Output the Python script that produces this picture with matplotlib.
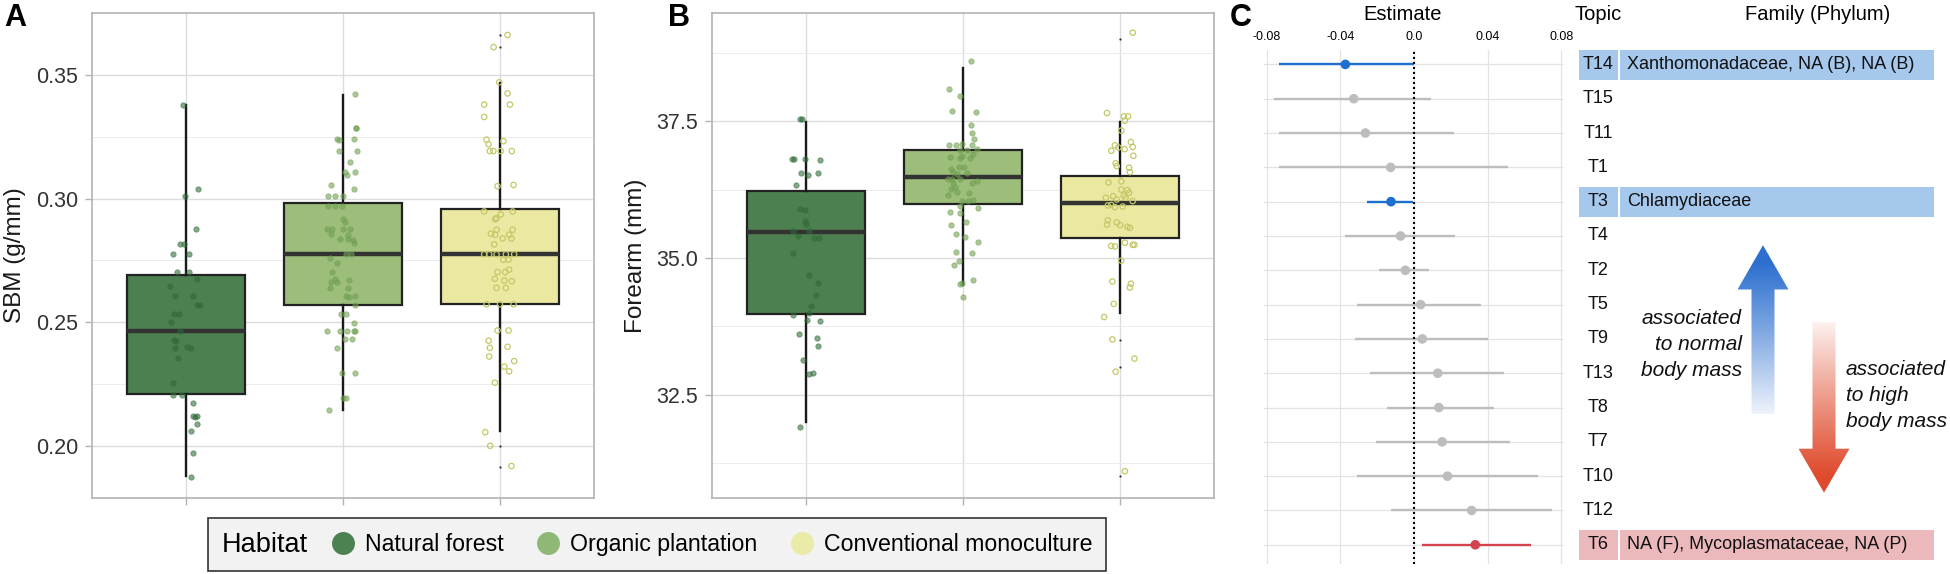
import numpy as np
import matplotlib
matplotlib.use('Agg')
import matplotlib.pyplot as plt
from matplotlib.lines import Line2D
from matplotlib.patches import Polygon
from matplotlib.offsetbox import HPacker

plt.rcParams['font.family'] = ['Liberation Sans', 'DejaVu Sans']

# ---- data ----

habitats = ['Natural forest', 'Organic plantation', 'Conventional monoculture']
box_fill = ['#4d8050', '#9cbe7a', '#ebe9a1']
pt_color = ['#2f6a36', '#6f9f52', '#c4c868']
legend_fill = ['#4c8152', '#8fb877', '#e9eba7']

# box statistics: (whisker low, q1, median, q3, whisker high)
sbm_stats = [(0.188, 0.2209, 0.2465, 0.2691, 0.3377),
             (0.2146, 0.2571, 0.2775, 0.2982, 0.342),
             (0.2059, 0.2575, 0.2775, 0.2956, 0.3469)]
sbm_fliers = [[], [], [0.3661, 0.3613, 0.2001, 0.1917]]

forearm_stats = [(31.997, 33.98, 35.475, 36.227, 37.49),
                 (34.5, 35.98, 36.48, 36.98, 38.48),
                 (33.99, 35.37, 36.0, 36.50, 37.49)]
forearm_fliers = [[], [], [39.01, 33.5, 33.0, 31.02]]

# jittered points: (offset from category centre, value)
sbm_natural = [(-0.021, 0.338), (-0.004, 0.3012), (0.074, 0.304), (0.066, 0.2876),
               (-0.036, 0.2815), (-0.011, 0.2815), (-0.085, 0.2775), (0.017, 0.2775),
               (-0.057, 0.2703), (0.017, 0.2703), (0.070, 0.2676), (-0.100, 0.2646),
               (-0.072, 0.2606), (0.042, 0.2606), (0.070, 0.257), (0.091, 0.257),
               (-0.079, 0.2535), (-0.047, 0.2535), (-0.096, 0.25), (-0.036, 0.2465),
               (-0.079, 0.2429), (-0.064, 0.2425), (-0.068, 0.2396), (0.006, 0.2399),
               (0.028, 0.2396), (-0.053, 0.2355), (-0.083, 0.2253), (-0.085, 0.2207),
               (-0.025, 0.2207), (0.042, 0.2174), (0.042, 0.2123), (0.070, 0.2123),
               (0.055, 0.2116), (0.070, 0.2089), (0.034, 0.2059), (0.045, 0.1972),
               (0.028, 0.1876)]
sbm_organic = [(0.074, 0.3421), (0.081, 0.3285), (0.085, 0.3285), (-0.038, 0.3240),
               (-0.028, 0.3237), (0.068, 0.3240), (-0.028, 0.3192), (0.091, 0.3192),
               (0.042, 0.3148), (0.015, 0.3106), (0.025, 0.3096), (0.079, 0.3106),
               (0.068, 0.304), (-0.074, 0.3053), (-0.096, 0.3012), (-0.049, 0.3012),
               (0.0, 0.3012), (-0.096, 0.297), (-0.053, 0.297), (-0.004, 0.297),
               (0.0, 0.2918), (0.011, 0.2907), (-0.100, 0.2876), (-0.070, 0.2876),
               (0.0, 0.2876), (0.042, 0.2876), (-0.074, 0.2857), (0.032, 0.2854),
               (-0.017, 0.2836), (0.032, 0.2836), (0.064, 0.2833), (0.068, 0.282),
               (0.021, 0.2775), (0.053, 0.2775), (-0.085, 0.2758), (-0.038, 0.2738),
               (-0.070, 0.2703), (-0.053, 0.2676), (-0.079, 0.2664), (-0.038, 0.2664),
               (0.038, 0.2670), (-0.085, 0.2639), (0.032, 0.2639), (0.021, 0.2605),
               (0.074, 0.2605), (0.036, 0.2602), (0.079, 0.257), (-0.011, 0.2533),
               (0.021, 0.2533), (0.068, 0.2498), (-0.102, 0.2465), (-0.021, 0.2465),
               (0.025, 0.2465), (0.068, 0.2465), (0.079, 0.2465), (0.011, 0.2433),
               (0.057, 0.2433), (-0.038, 0.2396), (-0.006, 0.2297), (0.074, 0.2297),
               (0.0, 0.2193), (0.021, 0.2193), (-0.091, 0.2145)]
sbm_conventional = [(0.049, 0.3661), (-0.040, 0.3612), (-0.004, 0.347), (0.049, 0.3425),
                    (-0.100, 0.338), (0.064, 0.338), (-0.100, 0.333), (-0.085, 0.3238),
                    (-0.072, 0.3220), (0.023, 0.3232), (-0.064, 0.3192), (-0.042, 0.3192),
                    (0.006, 0.3192), (0.076, 0.3192), (-0.015, 0.305), (0.087, 0.3055),
                    (-0.100, 0.2948), (0.081, 0.2948), (0.006, 0.2936), (-0.030, 0.2917),
                    (-0.021, 0.2921), (-0.021, 0.2874), (0.081, 0.2874), (-0.057, 0.2858),
                    (-0.030, 0.2854), (0.059, 0.2854), (0.017, 0.2839), (0.074, 0.2839),
                    (-0.036, 0.2815), (-0.100, 0.2775), (-0.068, 0.2775), (-0.021, 0.2775),
                    (0.038, 0.2775), (0.091, 0.2775), (0.055, 0.2753), (0.021, 0.2753),
                    (-0.015, 0.2703), (0.059, 0.2713), (0.034, 0.2703), (-0.032, 0.2676),
                    (0.028, 0.2669), (0.076, 0.2666), (-0.021, 0.2639), (0.038, 0.2639),
                    (-0.085, 0.2573), (0.0, 0.2573), (0.087, 0.2573), (-0.015, 0.2467),
                    (0.055, 0.2467), (-0.072, 0.2426), (-0.064, 0.2397), (0.049, 0.2401),
                    (-0.068, 0.2362), (0.028, 0.2321), (0.059, 0.2302), (0.091, 0.2343),
                    (-0.032, 0.2256), (-0.093, 0.2056), (-0.062, 0.2001), (0.074, 0.1919)]

forearm_natural = [(-0.036, 37.55), (-0.025, 37.54), (-0.089, 36.81), (-0.079, 36.81),
                   (-0.004, 36.81), (0.091, 36.79), (-0.032, 36.55), (0.011, 36.51),
                   (0.074, 36.55), (-0.064, 36.33), (-0.042, 35.90), (-0.008, 35.88),
                   (-0.004, 35.67), (0.0, 35.63), (-0.085, 35.49), (-0.053, 35.41),
                   (0.017, 35.49), (0.049, 35.36), (0.085, 35.36), (-0.083, 35.09),
                   (0.017, 34.68), (0.076, 34.54), (0.064, 34.33), (0.032, 34.13),
                   (0.017, 34.0), (-0.085, 33.96), (0.006, 33.87), (0.087, 33.84),
                   (-0.047, 33.61), (0.070, 33.54), (0.074, 33.39), (-0.021, 33.14),
                   (0.017, 32.88), (0.042, 32.89), (-0.036, 31.91)]
forearm_organic = [(0.051, 38.6), (-0.087, 38.09), (-0.019, 37.96), (-0.068, 37.69),
                   (0.081, 37.67), (0.051, 37.44), (0.059, 37.29), (0.070, 37.17),
                   (-0.087, 37.06), (-0.047, 37.07), (-0.004, 37.09), (0.055, 37.06),
                   (0.091, 37.0), (-0.019, 36.97), (0.023, 36.97), (0.066, 36.90),
                   (-0.083, 36.84), (-0.019, 36.82), (-0.008, 36.87), (0.045, 36.82),
                   (-0.076, 36.63), (-0.025, 36.66), (0.008, 36.67), (-0.066, 36.58),
                   (-0.040, 36.53), (0.023, 36.55), (-0.093, 36.45), (-0.072, 36.45),
                   (-0.019, 36.45), (0.087, 36.41), (-0.062, 36.38), (0.055, 36.38),
                   (-0.051, 36.29), (-0.079, 36.26), (-0.093, 36.16), (-0.040, 36.20),
                   (0.038, 36.18), (-0.008, 36.04), (0.034, 36.04), (0.062, 36.06),
                   (-0.019, 35.95), (0.098, 35.91), (-0.083, 35.84), (-0.019, 35.83),
                   (0.019, 35.66), (-0.079, 35.61), (-0.047, 35.44), (0.013, 35.39),
                   (0.098, 35.30), (-0.047, 35.11), (0.055, 35.09), (-0.025, 34.95),
                   (-0.055, 34.87), (0.066, 34.60), (-0.019, 34.52), (-0.008, 34.55),
                   (-0.002, 34.29)]
forearm_conventional = [(0.082, 39.12), (-0.082, 37.65), (0.025, 37.59), (0.052, 37.59),
                        (0.032, 37.51), (0.009, 37.33), (-0.032, 37.06), (-0.009, 37.02),
                        (0.070, 37.12), (-0.055, 36.96), (0.030, 36.99), (0.082, 37.03),
                        (0.086, 36.87), (-0.027, 36.73), (-0.020, 36.68), (0.059, 36.65),
                        (0.064, 36.57), (-0.073, 36.38), (0.009, 36.40), (0.009, 36.25),
                        (0.048, 36.24), (0.059, 36.19), (0.025, 36.14), (-0.089, 36.10),
                        (-0.043, 36.13), (-0.020, 36.07), (0.036, 36.10), (0.082, 36.04),
                        (-0.077, 35.96), (-0.055, 35.97), (-0.032, 35.93), (0.018, 35.94),
                        (-0.077, 35.69), (-0.082, 35.61), (-0.020, 35.65), (0.002, 35.60),
                        (0.048, 35.57), (0.064, 35.55), (-0.055, 35.22), (-0.032, 35.21),
                        (0.032, 35.28), (0.082, 35.24), (0.093, 35.24), (0.009, 34.95),
                        (-0.048, 34.57), (0.070, 34.53), (0.064, 34.46), (-0.039, 34.16),
                        (-0.100, 33.92), (-0.048, 33.51), (0.093, 33.16), (-0.027, 32.92),
                        (0.032, 31.10)]

# panel C: topic estimates with confidence intervals
topics = ['T14', 'T15', 'T11', 'T1', 'T3', 'T4', 'T2', 'T5', 'T9', 'T13', 'T8', 'T7', 'T10', 'T12', 'T6']
estimate = [-0.0373, -0.0327, -0.0264, -0.0127, -0.0125, -0.0073, -0.0047, 0.0036,
            0.0045, 0.0129, 0.0135, 0.0153, 0.0182, 0.0313, 0.0333]
ci_low = [-0.0731, -0.0758, -0.0736, -0.0736, -0.0258, -0.0376, -0.0191, -0.0309,
          -0.0322, -0.024, -0.0149, -0.0205, -0.0309, -0.0127, 0.0042]
ci_high = [0.0, 0.0091, 0.0215, 0.0509, -0.0004, 0.0222, 0.0082, 0.0364,
           0.04, 0.0487, 0.0436, 0.0524, 0.0676, 0.0749, 0.0636]
families = {'T14': 'Xanthomonadaceae, NA (B), NA (B)',
            'T3': 'Chlamydiaceae',
            'T6': 'NA (F), Mycoplasmataceae, NA (P)'}

# ---- figure ----
W, H = 1950, 574
fig = plt.figure(figsize=(W / 100, H / 100), dpi=100)
fig.patch.set_facecolor('white')


def px_axes(x0, y0, x1, y1):
    return fig.add_axes([x0 / W, 1 - y1 / H, (x1 - x0) / W, (y1 - y0) / H])


def box_panel(ax, stats, fliers, groups, ylim, yticks, minor, fmt, ylabel):
    bstats = []
    for (lo, q1, med, q3, hi), fl in zip(stats, fliers):
        bstats.append(dict(whislo=lo, q1=q1, med=med, q3=q3, whishi=hi, fliers=fl))
    bp = ax.bxp(bstats, positions=[1, 2, 3], widths=0.75, patch_artist=True, showcaps=False,
                boxprops=dict(edgecolor='#222222', linewidth=1.6, zorder=2),
                medianprops=dict(color='#333333', linewidth=3.2, zorder=2.5),
                whiskerprops=dict(color='#1a1a1a', linewidth=1.7, zorder=2),
                flierprops=dict(marker='o', markersize=1.6, markerfacecolor='#333333',
                                markeredgecolor='none', zorder=2))
    for patch, c in zip(bp['boxes'], box_fill):
        patch.set_facecolor(c)
    for i, pts in enumerate(groups):
        dx, y = np.array(pts).T
        if i == 2:
            ax.scatter(i + 1 + dx, y, s=15, facecolors='none', edgecolors=pt_color[i],
                       linewidths=0.9, zorder=3)
        else:
            ax.scatter(i + 1 + dx, y, s=15, color=pt_color[i], alpha=0.58,
                       linewidths=0.6, zorder=3)
    ax.set_xlim(0.4, 3.6)
    ax.set_ylim(*ylim)
    ax.set_xticks([1, 2, 3])
    ax.set_xticklabels([])
    ax.set_yticks(yticks)
    ax.set_yticklabels([fmt % v for v in yticks])
    ax.set_yticks(minor, minor=True)
    ax.grid(which='major', color='#dcdcdc', linewidth=1.0)
    ax.grid(which='minor', axis='y', color='#ececec', linewidth=0.7)
    ax.set_axisbelow(True)
    ax.tick_params(axis='both', which='major', color='#b3b3b3', length=5, width=1,
                   labelsize=15.5, labelcolor='#333333', pad=5)
    ax.tick_params(axis='y', which='minor', length=0)
    for sp in ax.spines.values():
        sp.set_color('#b3b3b3')
        sp.set_linewidth(1.2)
    ax.set_ylabel(ylabel, fontsize=17.5, color='#1a1a1a', labelpad=7)


axA = px_axes(92, 13, 594, 498)
box_panel(axA, sbm_stats, sbm_fliers, [sbm_natural, sbm_organic, sbm_conventional],
          (0.179, 0.375), [0.20, 0.25, 0.30, 0.35], [0.225, 0.275, 0.325], '%.2f', 'SBM (g/mm)')

axB = px_axes(712, 13, 1214, 498)
box_panel(axB, forearm_stats, forearm_fliers, [forearm_natural, forearm_organic, forearm_conventional],
          (30.61, 39.48), [32.5, 35.0, 37.5], [31.25, 33.75, 36.25, 38.75], '%.1f', 'Forearm (mm)')

# panel C: forest plot
rows = np.arange(1, len(topics) + 1)
blue, red, grey = '#1f6fd0', '#d4434d', '#bdbdbd'
colors = []
for lo, hi in zip(ci_low, ci_high):
    if hi <= 0:
        colors.append(blue)
    elif lo >= 0:
        colors.append(red)
    else:
        colors.append(grey)

axC = px_axes(1264, 50, 1564, 564)
axC.hlines(rows, ci_low, ci_high, colors=colors, linewidth=1.7, zorder=2)
axC.scatter(estimate, rows, c=colors, s=48, zorder=3, linewidths=0)
axC.axvline(0, color='black', linestyle=(0, (1, 1.4)), linewidth=1.5, zorder=2.5)
axC.set_xlim(-0.0815, 0.0815)
axC.set_ylim(15.56, 0.58)
axC.set_xticks([-0.08, -0.04, 0.0, 0.04, 0.08])
axC.set_xticklabels(['-0.08', '-0.04', '0.0', '0.04', '0.08'])
axC.xaxis.tick_top()
axC.set_yticks(rows)
axC.set_yticklabels([])
axC.tick_params(axis='both', length=0, labelsize=9, pad=5)
axC.grid(color='#e3e3e3', linewidth=0.9)
axC.set_axisbelow(True)
for sp in axC.spines.values():
    sp.set_visible(False)

# topic labels, highlighted families and arrows
axL = px_axes(1575, 50, 1950, 564)
axL.set_xlim(0, 375)
axL.set_ylim(15.56, 0.58)
axL.axis('off')
for row, t, c in zip(rows, topics, colors):
    if t in families:
        bg = '#a6c8ec' if c == blue else '#ebb8bb'
        axL.barh(row, 39, left=4, height=0.88, color=bg, zorder=1)
        axL.barh(row, 314, left=45, height=0.88, color=bg, zorder=1)
        axL.text(52, row, families[t], ha='left', va='center', fontsize=13, color='#111111')
    axL.text(23, row, t, ha='center', va='center', fontsize=13, color='#111111')


def gradient_arrow(ax, cx, y_tip, y_base, y_end, half_shaft, half_head, color):
    verts = [(cx, y_tip), (cx + half_head, y_base), (cx + half_shaft, y_base),
             (cx + half_shaft, y_end), (cx - half_shaft, y_end), (cx - half_shaft, y_base),
             (cx - half_head, y_base)]
    poly = Polygon(verts, closed=True, facecolor='none', edgecolor='none')
    ax.add_patch(poly)
    t = np.linspace(0, 1, 256)
    img = np.zeros((256, 1, 4))
    img[..., :3] = matplotlib.colors.to_rgb(color)
    img[:, 0, 3] = np.clip(1.08 - t ** 1.1, 0, 1)
    im = ax.imshow(img, extent=(cx - half_head, cx + half_head, y_end, y_tip),
                   origin='upper', aspect='auto', interpolation='bilinear', zorder=2)
    im.set_clip_path(poly)


gradient_arrow(axL, 188, 6.27, 7.56, 11.19, 11.5, 25.5, '#2c6fcf')
gradient_arrow(axL, 249, 13.48, 12.2, 8.51, 11.5, 25.5, '#df4a2c')
axL.set_xlim(0, 375)
axL.set_ylim(15.56, 0.58)
axL.text(167, 9.16, 'associated\nto normal\nbody mass', ha='right', va='center',
         style='italic', fontsize=15, linespacing=1.45, color='#111111')
axL.text(271, 10.65, 'associated\nto high\nbody mass', ha='left', va='center',
         style='italic', fontsize=15, linespacing=1.45, color='#111111')

# headers and panel letters
fig.text(1403 / W, 1 - 15 / H, 'Estimate', ha='center', va='center', fontsize=14.5)
fig.text(1598 / W, 1 - 15 / H, 'Topic', ha='center', va='center', fontsize=14.5)
fig.text(1818 / W, 1 - 15 / H, 'Family (Phylum)', ha='center', va='center', fontsize=14.5)
for x, letter in [(4, 'A'), (668, 'B'), (1230, 'C')]:
    fig.text(x / W, 1 - 3 / H, letter, ha='left', va='top', fontsize=22, fontweight='bold')

# legend with the title on the left, as ggplot draws it
handles = [Line2D([], [], linestyle='none', marker='o', markersize=16.5,
                  markerfacecolor=c, markeredgecolor='none') for c in legend_fill]
leg = fig.legend(handles, habitats, title='Habitat', ncol=3, loc='center',
                 bbox_to_anchor=(657 / W, 1 - 544.5 / H), fontsize=16.7, title_fontsize=19.5,
                 frameon=True, fancybox=False, facecolor='#f2f2f2', edgecolor='#333333',
                 framealpha=1, handlelength=1.0, handletextpad=0.45, columnspacing=1.4,
                 borderpad=0.6)
leg.get_frame().set_linewidth(1.2)
vbox = leg._legend_box
hbox = HPacker(pad=vbox.pad, sep=17, align='center', children=vbox.get_children())
hbox.set_figure(fig)
hbox.set_offset(leg._findoffset)
leg._legend_box = hbox

fig.savefig('out.png', dpi=100, facecolor='white')
